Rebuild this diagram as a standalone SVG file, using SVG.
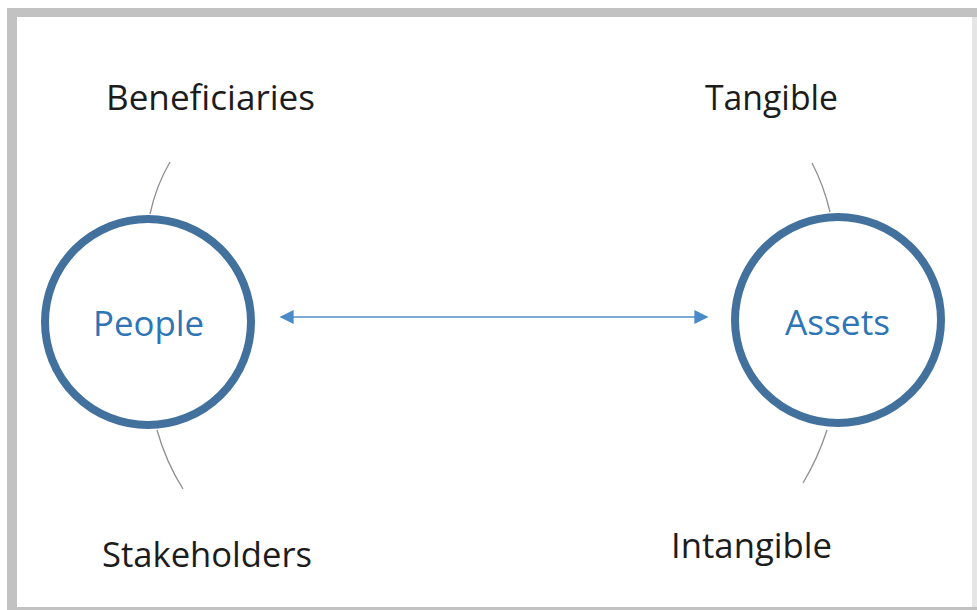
<svg xmlns="http://www.w3.org/2000/svg" width="977" height="610" viewBox="0 0 977 610">
  <defs>
    <style>
      .label { font-family: "Open Sans", "Noto Sans", sans-serif; font-size: 35px; fill: #1c1c1c; }
      .node-label { font-family: "Open Sans", "Noto Sans", sans-serif; font-size: 35px; fill: #2e75b6; }
      .ring { fill: #ffffff; stroke: #41719c; stroke-width: 8; }
      .spoke { fill: none; stroke: #8c8f94; stroke-width: 1.3; }
      .link { fill: none; stroke: #7aaad8; stroke-width: 2; }
    </style>
    <marker id="head" viewBox="0 0 10 10" refX="9" refY="5" markerWidth="14" markerHeight="14" markerUnits="userSpaceOnUse" orient="auto-start-reverse">
      <path d="M0,0 L10,5 L0,10 Z" fill="#4a8ac9"/>
    </marker>
  </defs>

  <!-- frame -->
  <rect x="0" y="0" width="977" height="610" fill="#ffffff"/>
  <rect x="7" y="8" width="970" height="602" fill="#c2c2c2"/>
  <rect x="17" y="17" width="955" height="590" fill="#ffffff"/>
  <rect x="972" y="17" width="5" height="590" fill="#e6e6e6"/>

  <!-- connectors -->
  <g id="connectors">
    <path class="spoke" d="M170,162 Q156,186 150,214"/>
    <path class="spoke" d="M157,430 Q166,462 183,489"/>
    <path class="spoke" d="M812,163 Q824,186 830,212"/>
    <path class="spoke" d="M827,430 Q818,458 803,483"/>
    <line class="link" x1="281" y1="317" x2="707" y2="317" marker-start="url(#head)" marker-end="url(#head)"/>
  </g>

  <!-- people -->
  <g id="people">
    <circle class="ring" cx="148" cy="322" r="103"/>
    <text class="node-label" x="93" y="336" textLength="111" lengthAdjust="spacingAndGlyphs">People</text>
  </g>

  <!-- assets -->
  <g id="assets">
    <circle class="ring" cx="838" cy="320" r="103"/>
    <text class="node-label" x="785" y="335" textLength="105" lengthAdjust="spacingAndGlyphs">Assets</text>
  </g>

  <g id="beneficiaries">
    <text class="label" x="106" y="110" textLength="209" lengthAdjust="spacingAndGlyphs">Beneficiaries</text>
  </g>
  <g id="stakeholders">
    <text class="label" x="102" y="567" textLength="210" lengthAdjust="spacingAndGlyphs">Stakeholders</text>
  </g>
  <g id="tangible">
    <text class="label" x="705" y="110" textLength="133" lengthAdjust="spacingAndGlyphs">Tangible</text>
  </g>
  <g id="intangible">
    <text class="label" x="671" y="558" textLength="161" lengthAdjust="spacingAndGlyphs">Intangible</text>
  </g>
</svg>
